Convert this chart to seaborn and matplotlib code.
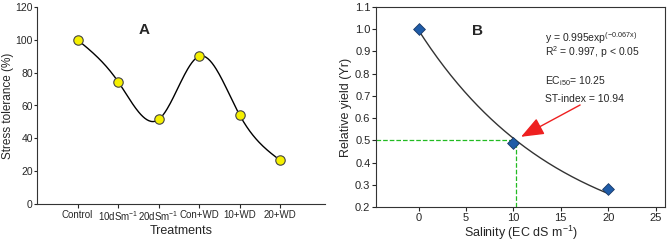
import numpy as np
import pandas as pd
import matplotlib
matplotlib.use("Agg")
import matplotlib.pyplot as plt
import seaborn as sns

treatments = ["Control", "10dSm$^{-1}$", "20dSm$^{-1}$", "Con+WD", "10+WD", "20+WD"]
tolerance = [100, 74.5, 51.5, 90, 54, 26.5]

salinity = [0, 10, 20]
rel_yield = [1.0, 0.49, 0.28]
fit_a, fit_b = 0.995, -0.067
ec50 = 10.25

sns.set_style("white")
plt.rcParams["font.family"] = ["Liberation Sans", "DejaVu Sans"]
plt.rcParams["mathtext.fontset"] = "custom"
plt.rcParams["mathtext.rm"] = "Liberation Sans"
plt.rcParams["mathtext.it"] = "Liberation Sans"


def natural_spline(x, y, n=200):
    # natural cubic spline through the points, like the smoothed line in SigmaPlot
    x = np.asarray(x, float)
    y = np.asarray(y, float)
    k = len(x)
    h = np.diff(x)
    A = np.zeros((k, k))
    r = np.zeros(k)
    A[0, 0] = A[-1, -1] = 1
    for i in range(1, k - 1):
        A[i, i - 1] = h[i - 1]
        A[i, i] = 2 * (h[i - 1] + h[i])
        A[i, i + 1] = h[i]
        r[i] = 6 * ((y[i + 1] - y[i]) / h[i] - (y[i] - y[i - 1]) / h[i - 1])
    m = np.linalg.solve(A, r)
    xs = np.linspace(x[0], x[-1], n)
    idx = np.clip(np.searchsorted(x, xs) - 1, 0, k - 2)
    x0, x1 = x[idx], x[idx + 1]
    hh = x1 - x0
    t0, t1 = x1 - xs, xs - x0
    ys = (m[idx] * t0 ** 3 + m[idx + 1] * t1 ** 3) / (6 * hh) \
        + (y[idx] / hh - m[idx] * hh / 6) * t0 + (y[idx + 1] / hh - m[idx + 1] * hh / 6) * t1
    return xs, ys


fig = plt.figure(figsize=(6.69, 2.45), dpi=100)
ax1 = fig.add_axes([37 / 669, 1 - 204 / 245, 288 / 669, 197 / 245])
ax2 = fig.add_axes([376 / 669, 1 - 207 / 245, 289 / 669, 200 / 245])

# panel A
pos = np.arange(1, len(treatments) + 1)
sx, sy = natural_spline(pos, tolerance)
sns.lineplot(x=sx, y=sy, ax=ax1, color="black", lw=1, sort=False)
sns.scatterplot(x=pos, y=tolerance, ax=ax1, color="#f5f000", edgecolor="#444444",
                s=46, linewidth=0.8, zorder=3)
ax1.set_xlim(0, 7.1)
ax1.set_ylim(0, 120)
ax1.set_xticks(pos)
ax1.set_xticklabels(treatments)
ax1.set_yticks(range(0, 121, 20))
ax1.set_xlabel("Treatments", fontsize=9, labelpad=1)
ax1.set_ylabel("Stress tolerance (%)", fontsize=8.5, labelpad=1)
ax1.text(2.65, 106, "A", fontsize=11, fontweight="bold", ha="center", va="center")
sns.despine(ax=ax1)

# panel B
xf = np.linspace(0, 20, 200)
yf = fit_a * np.exp(fit_b * xf)
sns.lineplot(x=xf, y=yf, ax=ax2, color="#333333", lw=1)
ax2.plot([-4.5, ec50], [0.5, 0.5], ls="--", color="#22bb22", lw=0.9)
ax2.plot([ec50, ec50], [0.2, 0.5], ls="--", color="#22bb22", lw=0.9)
sns.scatterplot(x=salinity, y=rel_yield, ax=ax2, marker="D", color="#1f5ca8",
                edgecolor="#1a3a66", s=36, linewidth=0.6, zorder=3)
ax2.annotate("", xy=(10.55, 0.51), xytext=(17.3, 0.665),
             arrowprops=dict(arrowstyle="-|>,head_length=1.4,head_width=0.55",
                             color="#ee2020", lw=1))
ax2.set_xlim(-4.5, 26)
ax2.set_ylim(0.2, 1.1)
ax2.set_xticks(range(0, 26, 5))
ax2.set_yticks(np.round(np.arange(0.2, 1.11, 0.1), 1))
ax2.set_yticklabels([f"{v:.1f}" for v in np.arange(0.2, 1.11, 0.1)])
ax2.set_xlabel("Salinity (EC dS m$^{-1}$)", fontsize=9, labelpad=1)
ax2.set_ylabel("Relative yield (Yr)", fontsize=9, labelpad=2)
ax2.text(6.2, 0.99, "B", fontsize=11, fontweight="bold", ha="center", va="center")
ax2.text(13.3, 0.96, "y = 0.995exp$^{(-0.067x)}$", fontsize=7.5, va="center")
ax2.text(13.3, 0.895, "R$^{2}$ = 0.997, p < 0.05", fontsize=7.5, va="center")
ax2.text(13.3, 0.765, "EC$_{i50}$= 10.25", fontsize=7.5, va="center")
ax2.text(13.3, 0.685, "ST-index = 10.94", fontsize=7.5, va="center")

for ax in (ax1, ax2):
    ax.tick_params(labelsize=8, length=3, direction="out", width=0.8, pad=1,
                   bottom=True, left=True)
    for s in ax.spines.values():
        s.set_color("#333333")
        s.set_linewidth(0.8)
ax1.tick_params(axis="x", labelsize=7)
ax1.tick_params(axis="y", labelsize=7.5, length=2)

fig.savefig("out.png", dpi=100)
